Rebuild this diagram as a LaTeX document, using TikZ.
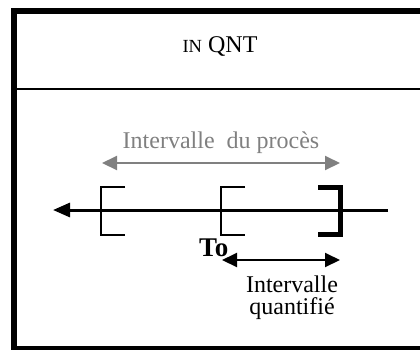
\documentclass[tikz,border=0pt]{standalone}
\usepackage{fontspec}
\setmainfont{Liberation Serif}
\usetikzlibrary{arrows.meta}
\definecolor{procgray}{RGB}{128,128,128}
\begin{document}
\begin{tikzpicture}[x=1pt,y=-1pt,
    txt/.style={font=\fontsize{24}{20}\selectfont,anchor=base,inner sep=0pt},
    brk/.style={line width=1.5pt},
    axe/.style={line width=3pt,-{Triangle[length=17pt,width=14pt]}},
    span/.style={line width=2pt,{Triangle[length=15pt,width=14pt]}-{Triangle[length=15pt,width=14pt]}}]
    \useasboundingbox (0,0) rectangle (420,349);
    \draw[line width=6pt] (14,360) -- (14,11) -- (430,11);
    \draw[line width=6pt] (11,349) -- (430,349);
    \draw[line width=2pt] (17,89) -- (430,89);
    \node[txt] (titre) at (220,52) {{\fontsize{18.5}{20}\selectfont IN} QNT};
    \coordinate (axeD) at (388,210);
    \coordinate (axeG) at (53,210);
    \draw[axe] (axeD) -- (axeG);
    \draw[brk] (125,187) -- (101,187) -- (101,235) -- (125,235);
    \draw[brk] (245,187) -- (221,187) -- (221,235) -- (245,235);
    \draw[line width=5pt] (318,187.5) -- (340.5,187.5) -- (340.5,234.5)
    -- (318,234.5);
    \node[txt,text=procgray] (proces) at (221,148) {Intervalle\ \ du proc\`es};
    \coordinate (procG) at (102,163);
    \coordinate (procD) at (340,163);
    \draw[span,procgray] (procG) -- (procD);
    \node[txt,anchor=base west,font=\fontsize{27}{20}\selectfont\bfseries]
    (to) at (199,256) {To};
    \coordinate (qntG) at (222,260);
    \coordinate (qntD) at (340,260);
    \draw[span] (qntG) -- (qntD);
    \node[txt] (qnt1) at (292,292) {Intervalle};
    \node[txt] (qnt2) at (292,314) {quantifi\'e};
  \end{tikzpicture}
\end{document}
